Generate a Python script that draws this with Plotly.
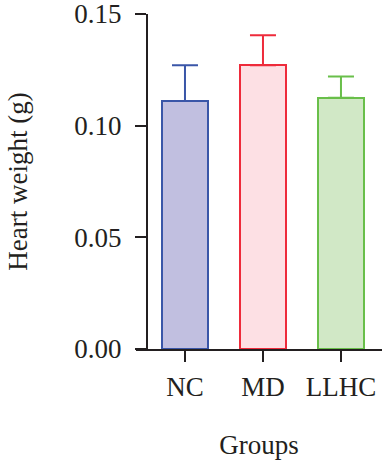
import plotly.graph_objects as go

groups = ["NC", "MD", "LLHC"]
means = [0.111, 0.127, 0.1125]
sems = [0.016, 0.0135, 0.0095]
fill_colors = ["#c1bfe0", "#fde0e4", "#d1e8c6"]
edge_colors = ["#3a56a8", "#ee2b3b", "#69bf4a"]
y_ticks = [0.00, 0.05, 0.10, 0.15]
y_ticklabels = ["0.00", "0.05", "0.10", "0.15"]

W, H = 382, 465
ML, MR, MT, MB = 136, 0, 14, 116
plot_w = W - ML - MR

FONT = "Liberation Serif"
FS = 27
AXC = "#231f20"

fig = go.Figure()
for g, m, s, fc, ec in zip(groups, means, sems, fill_colors, edge_colors):
    fig.add_trace(go.Bar(
        x=[g], y=[m], width=0.6,
        marker=dict(color=fc, line=dict(color=ec, width=2)),
        error_y=dict(type="data", symmetric=False, array=[s], arrayminus=[0],
                     color=ec, thickness=2, width=13),
        showlegend=False,
    ))

fig.update_layout(
    width=W, height=H,
    margin=dict(l=ML, r=MR, t=MT, b=MB),
    paper_bgcolor="white", plot_bgcolor="white",
    font=dict(family=FONT, size=FS, color=AXC),
    bargap=0,
    xaxis=dict(
        type="category", categoryorder="array", categoryarray=groups,
        range=[-0.628, 2.526],
        showline=True, linecolor=AXC, linewidth=2,
        ticks="outside", ticklen=11, tickwidth=2, tickcolor=AXC,
        showgrid=False, zeroline=False,
        tickfont=dict(family=FONT, size=FS, color=AXC),
        ticklabelstandoff=2,
        ticklabeloverflow="allow",
        title=dict(text="Groups", font=dict(family=FONT, size=FS, color=AXC), standoff=34),
        automargin=False,
    ),
    yaxis=dict(
        range=[0, 0.15],
        anchor="free", position=11 / plot_w,
        tickvals=y_ticks, ticktext=y_ticklabels,
        showline=True, linecolor=AXC, linewidth=2,
        ticks="outside", ticklen=11, tickwidth=2, tickcolor=AXC,
        showgrid=False, zeroline=False,
        tickfont=dict(family=FONT, size=FS, color=AXC),
        ticklabelstandoff=8,
        ticklabeloverflow="allow",
        title=dict(text="Heart weight (g)", font=dict(family=FONT, size=FS, color=AXC), standoff=38),
        automargin=False,
    ),
)

fig.write_html(
    "out.html",
    config={"displayModeBar": False},
    post_script="document.body.style.margin='0';document.body.style.overflow='hidden';",
)
